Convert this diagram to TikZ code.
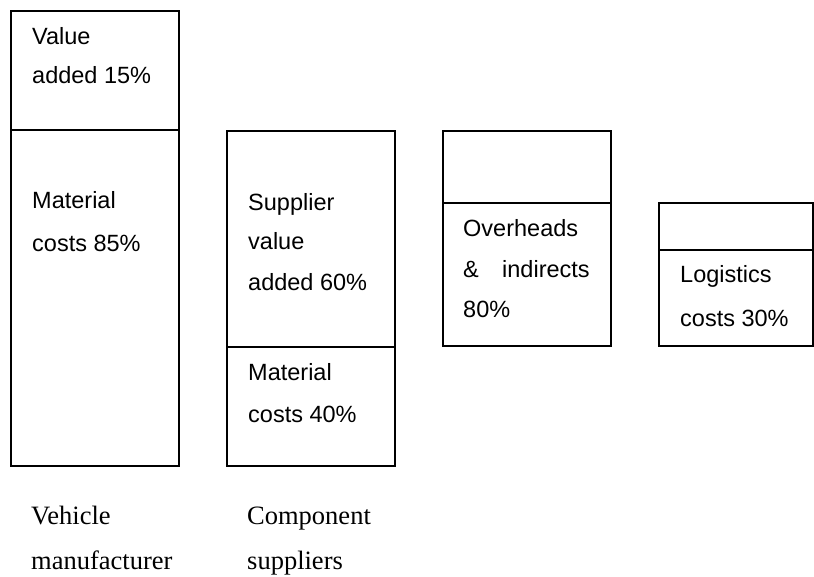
\documentclass[tikz,border=0pt]{standalone}
\usepackage{fontspec}
\setmainfont{Liberation Serif}
\newfontfamily\boxfont{Liberation Sans}
\begin{document}
\begin{tikzpicture}[x=1pt,y=-1pt,
  frame/.style={line width=1.6pt,line join=miter},
  cell/.style={anchor=base west,inner sep=0pt,font=\boxfont\fontsize{23.5}{28}\selectfont},
  caption/.style={anchor=base west,inner sep=0pt,font=\fontsize{26.5}{32}\selectfont}]
\useasboundingbox (0,0) rectangle (814,576);
% vehicle manufacturer column
\draw[frame] (11,11) rectangle (179,466);
\draw[frame] (11,130) -- (179,130);
% component suppliers column
\draw[frame] (227,131) rectangle (395,466);
\draw[frame] (227,347) -- (395,347);
% overheads column
\draw[frame] (443,131) rectangle (611,346);
\draw[frame] (443,203) -- (611,203);
% logistics column
\draw[frame] (659,203) rectangle (813,346);
\draw[frame] (659,250) -- (813,250);
% texts inside the boxes
\node[cell] (va1) at (32,44) {Value};
\node[cell] (va2) at (32,83) {added 15\%};
\node[cell] (mc1) at (32,208) {Material};
\node[cell] (mc2) at (32,251) {costs 85\%};
\node[cell] (sv1) at (248,210) {Supplier};
\node[cell] (sv2) at (248,249) {value};
\node[cell] (sv3) at (248,290) {added 60\%};
\node[cell] (sm1) at (248,380) {Material};
\node[cell] (sm2) at (248,422) {costs 40\%};
\node[cell] (oh1) at (463,236) {Overheads};
\node[cell] (oh2) at (463,277) {\&};
\node[cell] (oh3) at (502,277) {indirects};
\node[cell] (oh4) at (463,317) {80\%};
\node[cell] (lg1) at (680,282) {Logistics};
\node[cell] (lg2) at (680,326) {costs 30\%};
% captions under the columns
\node[caption] (cv1) at (31,524) {Vehicle};
\node[caption] (cv2) at (31,569.5) {manufacturer};
\node[caption] (cc1) at (247,524) {Component};
\node[caption] (cc2) at (247,569.5) {suppliers};
\end{tikzpicture}
\end{document}
